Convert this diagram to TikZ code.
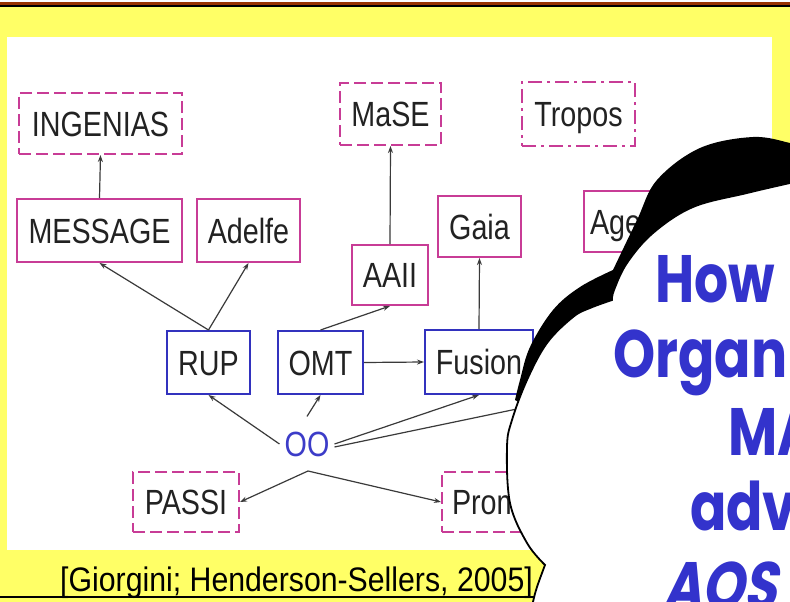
\documentclass[tikz,border=0pt]{standalone}
\usepackage{fontspec}
\setmainfont{Liberation Sans}
\newfontfamily\boxfont[FakeStretch=0.82]{Liberation Sans}
\newfontfamily\citefont[FakeStretch=0.89]{Liberation Sans}
\newfontfamily\cloudfont[FakeStretch=0.8]{Poppins}
\newfontfamily\cloudslant[FakeStretch=0.8, FakeSlant=0.2]{Poppins}
\usetikzlibrary{arrows.meta}

\definecolor{slidebrown}{HTML}{993300}
\definecolor{slideyellow}{HTML}{FFFF66}
\definecolor{boxmag}{HTML}{C83C96}
\definecolor{boxblue}{HTML}{3232BE}
\definecolor{boxtext}{HTML}{222222}
\definecolor{linkgray}{HTML}{3A3A3A}
\definecolor{oocol}{HTML}{3C3CC8}
\definecolor{cloudblue}{HTML}{3333CC}

\tikzset{
  mbox/.style={draw=boxmag, line width=2pt, inner sep=0pt,
    font=\boxfont\fontsize{35}{38}\selectfont, text=boxtext,
    text height=25pt, text depth=0pt},
  bbox/.style={mbox, draw=boxblue},
  dbox/.style={mbox, dash pattern=on 12pt off 5pt},
  ddbox/.style={mbox, dash pattern=on 14pt off 5pt on 3pt off 5pt},
  link/.style={draw=linkgray, line width=1.2pt, -{Stealth[length=7pt,width=5pt]}},
  cloudtext/.style={anchor=base west, inner sep=0pt, text=cloudblue,
    font=\cloudfont\bfseries\fontsize{67}{70}\selectfont},
}

\begin{document}
\begin{tikzpicture}[x=1pt, y=-1pt]
  \useasboundingbox (0,0) rectangle (790,602);
  \clip (0,0) rectangle (790,602);

  % slide background: title rule, yellow field, white figure panel
  \fill[white] (0,0) rectangle (790,2);
  \fill[slidebrown] (0,2) rectangle (790,5);
  \fill[black] (0,5) rectangle (790,7);
  \fill[slideyellow] (0,7) rectangle (790,602);
  \fill[white] (7,37) rectangle (772,550);

  % methodology boxes
  \node[dbox, minimum width=163pt, minimum height=61pt] (ingenias) at (100.5,123.5) {INGENIAS};
  \node[mbox, minimum width=165pt, minimum height=63pt] (message) at (99.5,230.5) {MESSAGE};
  \node[mbox, minimum width=103pt, minimum height=63pt] (adelfe) at (248.5,230.5) {Adelfe};
  \node[dbox, minimum width=101pt, minimum height=62pt] (mase) at (390.5,114) {MaSE};
  \node[ddbox, minimum width=113pt, minimum height=64pt] (tropos) at (578.5,114) {Tropos};
  \node[mbox, minimum width=83pt, minimum height=61pt] (gaia) at (479.5,226.5) {Gaia};
  \node[mbox, minimum width=100pt, minimum height=61pt, text width=88pt, align=left] (age) at (634,221.5) {Age};
  \node[mbox, minimum width=76pt, minimum height=60pt] (aaii) at (390,275) {AAII};
  \node[bbox, minimum width=83pt, minimum height=63pt] (rup) at (208.5,362.5) {RUP};
  \node[bbox, minimum width=85pt, minimum height=63pt] (omt) at (320.5,362.5) {OMT};
  \node[bbox, minimum width=108pt, minimum height=64pt] (fusion) at (479,362) {Fusion};
  \node[dbox, minimum width=106pt, minimum height=60pt] (passi) at (186,502) {PASSI};
  \node[dbox, minimum width=130pt, minimum height=60pt, text width=110pt, align=left] (prom) at (507,502) {Prom};
  \node[inner sep=5pt, text=oocol, font=\boxfont\fontsize{35}{38}\selectfont] (oo) at (307,444) {OO};
  \coordinate (oofoot) at (308,471);
  \coordinate (hidden) at (560,400);

  % derivation links
  \draw[link] (message.north) -- (ingenias.south);
  \draw[link] (rup.north) -- (message.south);
  \draw[link] (rup.north) -- (adelfe.south);
  \draw[link] (aaii.north) -- (mase.south);
  \draw[link] (omt.north) -- (aaii.south);
  \draw[link] (fusion.north) -- (gaia.south);
  \draw[link] (omt.east) -- (fusion.west);
  \draw[link] (oo.west) -- (rup.south);
  \draw[link] ([yshift=10pt]oo.north) -- (omt.south);
  \draw[link] (oo.east) -- (fusion.south);
  \draw[link] ([yshift=-3pt]oo.east) -- (hidden);
  \draw[link] (oofoot) -- (passi.east);
  \draw[link] (oofoot) -- (prom.west);

  % citation
  \node[anchor=base west, inner sep=0pt, font=\citefont\fontsize{34}{36}\selectfont] (cite) at (60,591)
    {[Giorgini; Henderson-Sellers, 2005]};
  \draw[line width=1.8pt] (0,597) -- (540,597);

  % thought cloud: dark rims of the upper lobes
  \fill[black]
    plot[smooth, tension=0.6] coordinates {(800,146) (790,143) (753,137) (700,148) (657,180) (637,220) (613,270)}
    -- plot[smooth, tension=0.6] coordinates {(613,270) (580,287) (553,310) (530,347) (520,380) (515,400)}
    -- (600,450) -- (800,450) -- cycle;
  % white body of the cloud
  \filldraw[fill=white, draw=black, line width=1.8pt]
    plot[smooth, tension=0.6] coordinates {(800,181) (790,183) (747,193) (693,207) (653,233) (627,263) (614,290) (612,300)}
    -- plot[smooth, tension=0.6] coordinates {(612,300) (590,308) (573,317) (547,343) (527,380) (512,420) (507,447) (510,503) (527,543) (545,565)}
    -- plot[smooth, tension=0.6] coordinates {(545,565) (537,587) (533,602) (532,612)}
    -- (800,612) -- cycle;

  % cloud question
  \node[cloudtext] (q1) at (655,302) {How};
  \node[cloudtext] (q2) at (613,377) {Organ};
  \node[cloudtext] (q3) at (728,455) {MA};
  \node[cloudtext] (q4) at (690,530) {adv};
  \node[cloudtext, font=\cloudslant\bfseries\fontsize{67}{70}\selectfont] (q5) at (662,609) {AOS};
\end{tikzpicture}
\end{document}
